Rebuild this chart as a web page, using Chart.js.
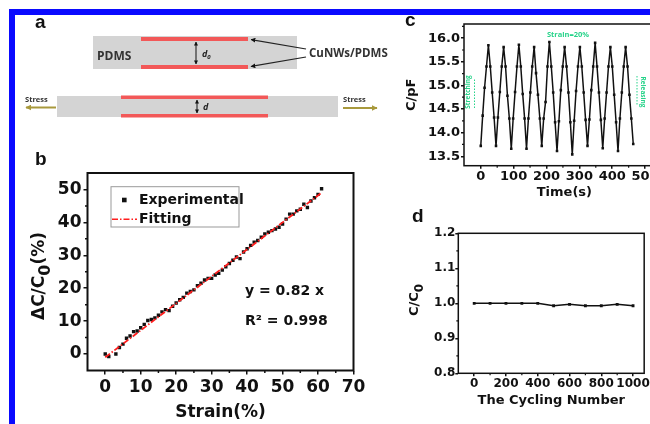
<!DOCTYPE html>
<html><head><meta charset="utf-8">
<script src="https://cdn.jsdelivr.net/npm/chart.js@4.4.0/dist/chart.umd.min.js"></script>
<style>
html,body{margin:0;padding:0;background:#fff;overflow:hidden;}
#wrap{position:relative;width:650px;height:424px;overflow:hidden;background:#fff;}
.cv{position:absolute;}
#ov{position:absolute;left:0;top:0;pointer-events:none;}
.fr{position:absolute;background:#0a0aff;}
</style></head><body>
<div id="wrap">
  <canvas id="cb" class="cv" width="380" height="284" style="left:0;top:140px"></canvas>
  <canvas id="cc" class="cv" width="290" height="200" style="left:390px;top:0"></canvas>
  <canvas id="cd" class="cv" width="260" height="224" style="left:390px;top:200px"></canvas>
  <svg id="ov" width="650" height="424" xmlns="http://www.w3.org/2000/svg">
    <defs>
      <marker id="ah" viewBox="0 0 10 10" refX="9" refY="5" markerWidth="4" markerHeight="4" orient="auto-start-reverse"><path d="M0,0 L10,5 L0,10 z" fill="#111"/></marker>
      <marker id="ahs" viewBox="0 0 10 10" refX="9" refY="5" markerWidth="3" markerHeight="3" orient="auto-start-reverse"><path d="M0,0 L10,5 L0,10 z" fill="#a8993c"/></marker>
    </defs>
    <g font-family="'Open Sans', sans-serif" font-weight="bold">
      <rect x="93" y="36" width="204" height="33" fill="#d4d4d4"/>
      <rect x="141" y="37" width="107" height="4" fill="#f25858"/>
      <rect x="141" y="65" width="107" height="4" fill="#f25858"/>
      <text x="97" y="59.5" font-size="12" fill="#333">PDMS</text>
      <line x1="196" y1="42" x2="196" y2="64" stroke="#111" stroke-width="1" marker-start="url(#ah)" marker-end="url(#ah)"/>
      <text x="202" y="57" font-size="9" font-style="italic" fill="#222">d<tspan font-size="6" dy="2">0</tspan></text>
      <line x1="306" y1="49" x2="251" y2="39.5" stroke="#222" stroke-width="1.2" marker-end="url(#ah)"/>
      <line x1="306" y1="57" x2="251" y2="66.5" stroke="#222" stroke-width="1.2" marker-end="url(#ah)"/>
      <text x="309" y="57" font-size="11.5" fill="#333">CuNWs/PDMS</text>
      <rect x="57" y="96" width="281" height="21" fill="#d4d4d4"/>
      <rect x="121" y="95.5" width="147" height="3.5" fill="#f25858"/>
      <rect x="121" y="114" width="147" height="3.5" fill="#f25858"/>
      <line x1="197" y1="100" x2="197" y2="113" stroke="#111" stroke-width="1" marker-start="url(#ah)" marker-end="url(#ah)"/>
      <text x="203" y="110" font-size="9" font-style="italic" fill="#222">d</text>
      <text x="25" y="102" font-size="7.5" fill="#333">Stress</text>
      <line x1="56" y1="107.5" x2="26" y2="107.5" stroke="#a8993c" stroke-width="2" marker-end="url(#ahs)"/>
      <text x="343" y="102" font-size="7.5" fill="#333">Stress</text>
      <line x1="343" y1="108" x2="377" y2="108" stroke="#a8993c" stroke-width="2" marker-end="url(#ahs)"/>
      <text x="568" y="37" font-size="7.5" fill="#27d38a" text-anchor="middle">Strain=20%</text>
      <text transform="translate(470,92) rotate(-90)" font-size="6.5" fill="#27d38a" text-anchor="middle">Stretching</text>
      <line x1="474.5" y1="108" x2="474.5" y2="78" stroke="#27d38a" stroke-width="1" stroke-dasharray="1.5,1.5"/>
      <text transform="translate(641,92) rotate(90)" font-size="6.5" fill="#27d38a" text-anchor="middle">Releasing</text>
      <line x1="637" y1="76" x2="637" y2="106" stroke="#27d38a" stroke-width="1" stroke-dasharray="1.5,1.5"/>
    </g>
    <g font-family="'DejaVu Sans', sans-serif" font-weight="bold" fill="#111">
      <text x="245" y="295" font-size="14">y = 0.82 x</text>
      <text x="245" y="325" font-size="14">R² = 0.998</text>
    </g>
    <g font-family="'Liberation Sans', Arial, sans-serif" font-weight="bold" fill="#111" font-size="19">
      <text x="35" y="28">a</text>
      <text x="35" y="165">b</text>
      <text x="405" y="26">c</text>
      <text x="412" y="222">d</text>
    </g>
  </svg>
  <div class="fr" style="left:9px;top:9px;width:660px;height:6px"></div>
  <div class="fr" style="left:9px;top:9px;width:6px;height:430px"></div>
</div>
<script>
// ---- Panel b data ----
const strainX = [0,1,3,4,5,6,7,8,9,10,11,12,13,14,15,16,17,18,19,20,21,22,23,24,25,26,27,28,29,30,31,32,33,34,35,36,37,38,39,40,41,42,43,44,45,46,47,48,49,50,51,52,53,54,55,56,57,58,59,60,61];
const deltaC = [0,-0.8,0,2,3,4.8,5.5,6.8,7,8,9,10.2,10.5,11,11.8,12.8,13.5,13.2,14.5,15.5,16.5,17.2,18.5,19,19.5,20.8,21.5,22.5,23,23,24,24.5,25.5,26.5,27.5,28.5,29.5,29,31,32,33,34,34.5,35.5,36.5,37,37.5,38,38.5,39.5,41,42.5,42.5,43.5,44,45.5,44.5,46.5,47.5,48.5,50.2];
const fitStrain = [0, 61];
const fitDeltaC = [-1, 49];
const bXTicks = [0,10,20,30,40,50,60,70];
const bYTicks = [0,10,20,30,40,50];
// ---- Panel c data ----
const timeS = [0,5.8,11.6,17.4,23.2,29,34.8,40.6,46.4,52.2,58,63.8,69.6,75.4,81.2,87,92.8,98.6,104.4,110.2,116,121.8,127.6,133.4,139.2,145,150.8,156.6,162.4,168.2,174,179.8,185.6,191.4,197.2,203,208.8,214.6,220.4,226.2,232,237.8,243.6,249.4,255.2,261,266.8,272.6,278.4,284.2,290,295.8,301.6,307.4,313.2,319,324.8,330.6,336.4,342.2,348,353.8,359.6,365.4,371.2,377,382.8,388.6,394.4,400.2,406,411.8,417.6,423.4,429.2,435,440.8,446.6,452.4,458.2,464];
const capPF = [
 13.72,14.36,14.95,15.40,15.85,15.40,14.85,14.32,
 13.72,14.32,14.86,15.40,15.81,15.40,14.78,14.30,
 13.66,14.30,14.86,15.40,15.86,15.40,14.82,14.30,
 13.66,14.30,14.85,15.40,15.81,15.26,14.80,14.30,
 13.72,14.30,14.65,15.40,15.92,15.40,14.85,14.22,
 13.61,14.24,14.90,15.40,15.81,15.40,14.85,14.22,
 13.54,14.25,14.88,15.40,15.81,15.40,14.85,14.27,
 13.72,14.28,14.90,15.40,15.90,15.40,14.85,14.27,
 13.67,14.30,14.85,15.40,15.81,15.40,14.80,14.22,
 13.61,14.30,14.85,15.40,15.81,15.40,14.80,14.30,
 13.76];
const cXTicks = [0,100,200,300,400,500];
const cYTicks = [13.5,14.0,14.5,15.0,15.5,16.0];
// ---- Panel d data ----
const cycleN = [0,100,200,300,400,500,600,700,800,900,1000];
const ratioC = [1.000,1.000,1.000,1.000,1.000,0.993,0.997,0.993,0.993,0.997,0.993];
const dXTicks = [0,200,400,600,800,1000];
const dYTicks = [0.8,0.9,1.0,1.1,1.2];

const FAM = "'DejaVu Sans', sans-serif";
Chart.defaults.font.family = FAM;
Chart.defaults.font.weight = 'bold';
Chart.defaults.color = '#111';

const deco = {
  id: 'deco',
  afterDraw(chart, args, o) {
    const {ctx, chartArea: a, scales: {x, y}} = chart;
    ctx.save();
    ctx.strokeStyle = '#111';
    ctx.lineWidth = o.box;
    ctx.strokeRect(a.left, a.top, a.right - a.left, a.bottom - a.top);
    ctx.lineWidth = o.tw;
    const xt = x.ticks.map(t => t.value), yt = y.ticks.map(t => t.value);
    const xs = xt[1] - xt[0], yst = yt[1] - yt[0];
    ctx.beginPath();
    for (let i = -1; i < xt.length + 2; i++) {
      const v = xt[0] + (i + 0.5) * xs;
      const p = x.getPixelForValue(v);
      if (p < a.left + 2 || p > a.right - 2) continue;
      ctx.moveTo(p, a.bottom); ctx.lineTo(p, a.bottom + o.mtl);
    }
    for (let i = -1; i < yt.length + 2; i++) {
      const v = yt[0] + (i + 0.5) * yst;
      const p = y.getPixelForValue(v);
      if (p < a.top + 2 || p > a.bottom - 2) continue;
      ctx.moveTo(a.left, p); ctx.lineTo(a.left - o.mtl, p);
    }
    ctx.stroke();
    if (o.vt) {
      const vt = o.vt;
      ctx.save();
      ctx.translate(vt.x, vt.y);
      ctx.rotate(-Math.PI / 2);
      const font = s => `bold ${s}px ${FAM}`;
      let W = 0;
      vt.parts.forEach(p => { ctx.font = font(p[1] ? vt.sub : vt.size); W += ctx.measureText(p[0]).width; });
      let cx = -W / 2;
      ctx.fillStyle = '#111';
      ctx.textBaseline = 'alphabetic';
      vt.parts.forEach(p => {
        ctx.font = font(p[1] ? vt.sub : vt.size);
        ctx.fillText(p[0], cx, vt.base + (p[1] ? vt.dy : 0));
        cx += ctx.measureText(p[0]).width;
      });
      ctx.restore();
    }
    if (o.legend) {
      const L = o.legend, ds = chart.data.datasets;
      ctx.strokeStyle = '#999'; ctx.lineWidth = 1;
      ctx.strokeRect(L.x, L.y, L.w, L.h);
      ctx.font = `bold ${L.size}px ${FAM}`;
      ctx.textBaseline = 'middle';
      ctx.fillStyle = '#111';
      // row 1: marker
      const r1 = L.y + L.r1, r2 = L.y + L.r2;
      ctx.fillStyle = ds[0].backgroundColor;
      ctx.fillRect(L.x + 11, r1 - 2.3, 4.6, 4.6);
      ctx.fillStyle = '#111';
      ctx.fillText(ds[0].label, L.x + L.tx, r1);
      ctx.strokeStyle = ds[1].borderColor; ctx.lineWidth = 1.6;
      ctx.setLineDash(ds[1].borderDash);
      ctx.beginPath(); ctx.moveTo(L.x + 1, r2); ctx.lineTo(L.x + 26, r2); ctx.stroke();
      ctx.setLineDash([]);
      ctx.fillText(ds[1].label, L.x + L.tx, r2);
    }
    ctx.restore();
  }
};

function xScale(c) {
  return {
    type: 'linear', position: 'bottom', min: c.min, max: c.max,
    afterBuildTicks: s => { s.ticks = c.ticks.map(v => ({value: v})); },
    afterFit: s => { s.height = c.height; },
    grid: {drawOnChartArea: false, drawTicks: true, tickLength: c.tl, color: '#111', lineWidth: 1.5},
    border: {display: false},
    ticks: {font: {size: c.size, weight: 'bold'}, padding: c.pad, maxRotation: 0, minRotation: 0, autoSkip: false, color: '#111', callback: c.fmt || (v => String(v))},
    title: {display: true, text: c.title, font: {size: c.tsize, weight: 'bold'}, padding: {top: 0, bottom: c.tpad}, color: '#111'}
  };
}
function yScale(c) {
  return {
    type: 'linear', position: 'left', min: c.min, max: c.max,
    afterBuildTicks: s => { s.ticks = c.ticks.map(v => ({value: v})); },
    afterFit: s => { s.width = c.width; },
    grid: {drawOnChartArea: false, drawTicks: true, tickLength: c.tl, color: '#111', lineWidth: 1.5},
    border: {display: false},
    ticks: {font: {size: c.size, weight: 'bold'}, padding: c.pad, autoSkip: false, color: '#111', callback: c.fmt || (v => String(v))},
    title: {display: !!c.title, text: c.title || '', font: {size: c.tsize || 12, weight: 'bold'}, padding: {top: c.tpad || 0, bottom: 0}, color: '#111'}
  };
}
const base = {responsive: false, animation: false, devicePixelRatio: 1};

// Panel b
new Chart(document.getElementById('cb'), {
  type: 'scatter',
  data: {datasets: [
    {label: 'Experimental', data: strainX.map((v, i) => ({x: v, y: deltaC[i]})), pointStyle: 'rect', pointRadius: 2.4, backgroundColor: '#111', borderColor: '#111', borderWidth: 0, showLine: false, order: 2},
    {label: 'Fitting', type: 'line', data: fitStrain.map((v, i) => ({x: v, y: fitDeltaC[i]})), borderColor: '#ff1e1e', borderWidth: 1.8, borderDash: [6, 2, 1.5, 2], pointRadius: 0, fill: false, order: 1}
  ]},
  options: Object.assign({}, base, {
    layout: {padding: {left: 0, top: 33, right: 26.5, bottom: 0}},
    scales: {
      x: xScale({min: -5, max: 70, ticks: bXTicks, height: 53.5, tl: 4, pad: 3, size: 17, title: 'Strain(%)', tsize: 17, tpad: 1}),
      y: yScale({min: -5, max: 55, ticks: bYTicks, width: 87.5, tl: 4, pad: 2, size: 17})
    },
    plugins: {legend: {display: false}, tooltip: {enabled: false},
      deco: {box: 2, tw: 1.5, mtl: 2.5,
        vt: {x: 38, y: 136, size: 17, sub: 16, base: 6, dy: 6, parts: [['ΔC/C', 0], ['0', 1], ['(%)', 0]]},
        legend: {x: 111, y: 46.7, w: 128, h: 40.3, r1: 13.3, r2: 32.6, tx: 28, size: 14}}}
  }),
  plugins: [deco]
});

// Panel c
new Chart(document.getElementById('cc'), {
  type: 'line',
  data: {datasets: [
    {label: 'C', data: timeS.map((v, i) => ({x: v, y: capPF[i]})), borderColor: '#111', borderWidth: 1.5, pointStyle: 'rect', pointRadius: 1.8, backgroundColor: '#111', pointBorderWidth: 0, tension: 0, fill: false}
  ]},
  options: Object.assign({}, base, {
    layout: {padding: {left: 0, top: 24, right: 15.2, bottom: 0}},
    scales: {
      x: xScale({min: -51, max: 560, ticks: cXTicks, height: 34.3, tl: 3, pad: 0, size: 13, title: 'Time(s)', tsize: 13, tpad: 0}),
      y: yScale({min: 13.3, max: 16.3, ticks: cYTicks, width: 74, tl: 3, pad: 1, size: 13, fmt: v => v.toFixed(1), title: 'C/pF', tsize: 13, tpad: 14})
    },
    plugins: {legend: {display: false}, tooltip: {enabled: false},
      deco: {box: 1.5, tw: 1.2, mtl: 2}}
  }),
  plugins: [deco]
});

// Panel d
new Chart(document.getElementById('cd'), {
  type: 'line',
  data: {datasets: [
    {label: 'C/C0', data: cycleN.map((v, i) => ({x: v, y: ratioC[i]})), borderColor: '#111', borderWidth: 1.5, pointStyle: 'rect', pointRadius: 2, backgroundColor: '#111', pointBorderWidth: 0, tension: 0, fill: false}
  ]},
  options: Object.assign({}, base, {
    layout: {padding: {left: 0, top: 33.3, right: 1.7, bottom: 0}},
    scales: {
      x: xScale({min: -100, max: 1070, ticks: dXTicks, height: 50.7, tl: 3, pad: 0, size: 12, title: 'The Cycling Number', tsize: 13, tpad: 16}),
      y: yScale({min: 0.8, max: 1.2, ticks: dYTicks, width: 68.3, tl: 3, pad: 0, size: 12, fmt: v => v.toFixed(1)})
    },
    plugins: {legend: {display: false}, tooltip: {enabled: false},
      deco: {box: 1.5, tw: 1.2, mtl: 2,
        vt: {x: 23, y: 100, size: 13, sub: 12, base: 5, dy: 5, parts: [['C/C', 0], ['0', 1]]}}}
  }),
  plugins: [deco]
});
</script>
</body></html>
